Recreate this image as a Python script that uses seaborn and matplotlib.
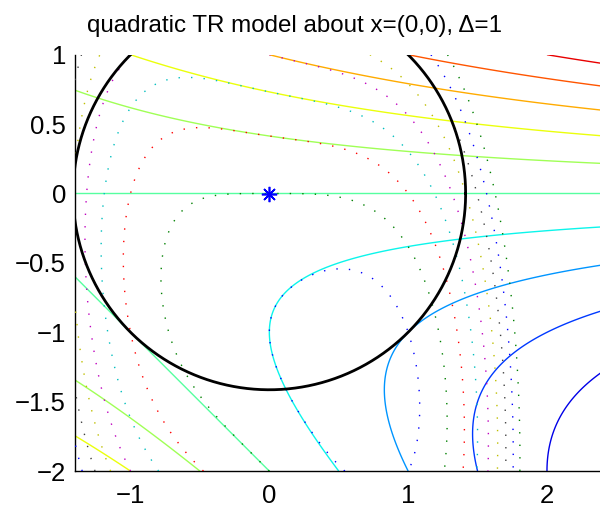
import numpy as np
import matplotlib
matplotlib.use("Agg")
import matplotlib.pyplot as plt
import matplotlib.colors as mcolors
import seaborn as sns
import pandas as pd

# ---- data ----
center = [0.0, 0.0]                 # expansion point x
f_at_center = 1.0                   # f(x)
gradient = [0.0, 2.0]               # grad f(x)
hessian = [[0.0, 1.0], [1.0, 2.0]]  # Hessian at x
# true function f = a*x1^4 + b*x1*x2 + (c + x2)^2
quartic_coef = 1.0
cross_coef = 1.0
shift_coef = 1.0
tr_radius = 1.414
model_levels = [-3, -2, -1, 0, 1, 2, 3, 4, 5, 6]
color_limits = [-4.0, 7.0]
func_levels = [0, 1, 2, 3, 4, 5, 6, 7, 8]
func_colors = [(0, 0, 1), (0, 0.5, 0), (1, 0, 0), (0, 0.75, 0.75),
               (0.75, 0, 0.75), (0.75, 0.75, 0), (0.25, 0.25, 0.25)]
x_limits = [-1.4, 2.4]
y_limits = [-2.0, 1.0]
x_ticks = [-1, 0, 1, 2]
x_tick_labels = ["\u22121", "0", "1", "2"]
y_ticks = [-2, -1.5, -1, -0.5, 0, 0.5, 1]
y_tick_labels = ["\u22122", "\u22121.5", "\u22121", "\u22120.5", "0", "0.5", "1"]
title = "quadratic TR model about x=(0,0), \u0394=1"

# ---- figure ----
sns.set_theme(style="white")
plt.rcParams["font.family"] = ["Liberation Sans", "DejaVu Sans"]
plt.rcParams["axes.unicode_minus"] = True

fig = plt.figure(figsize=(6.0, 5.07), dpi=100)
ax = fig.add_axes([75 / 600, (507 - 471.1) / 507, 527.5 / 600, 416.4 / 507])

xs = np.linspace(x_limits[0], x_limits[1], 600)
ys = np.linspace(y_limits[0], y_limits[1], 500)
X, Y = np.meshgrid(xs, ys)
P1 = X - center[0]
P2 = Y - center[1]
H = np.array(hessian)
M = (f_at_center + gradient[0] * P1 + gradient[1] * P2
     + 0.5 * (H[0, 0] * P1**2 + 2 * H[0, 1] * P1 * P2 + H[1, 1] * P2**2))
F = quartic_coef * X**4 + cross_coef * X * Y + (shift_coef + Y) ** 2

norm = mcolors.Normalize(vmin=color_limits[0], vmax=color_limits[1])
jet = matplotlib.colormaps["jet"]
model_colors = [jet(norm(l)) for l in model_levels]
ax.contour(X, Y, M, levels=model_levels, colors=model_colors,
           linewidths=1.0, zorder=2)

fc = [func_colors[i % len(func_colors)] for i in range(len(func_levels))]
cs = ax.contour(X, Y, F, levels=func_levels, colors=fc, linewidths=1.0, zorder=3)
cs.set_linestyle((0, (1.0, 8.0)))
cs.set_capstyle("butt")

theta = np.linspace(0, 2 * np.pi, 721)
circle = pd.DataFrame({"x": center[0] + tr_radius * np.cos(theta),
                       "y": center[1] + tr_radius * np.sin(theta)})
sns.lineplot(data=circle, x="x", y="y", sort=False, estimator=None,
             color="black", linewidth=2.0, ax=ax, zorder=4)
ax.plot([center[0]], [center[1]], linestyle="none", marker=(8, 2, 0),
        markersize=11, markeredgewidth=1.2, color=(0, 0, 1), zorder=5)

ax.set_xlim(x_limits)
ax.set_ylim(y_limits)
ax.set_xticks(x_ticks)
ax.set_xticklabels(x_tick_labels)
ax.set_yticks(y_ticks)
ax.set_yticklabels(y_tick_labels)
ax.set_xlabel("")
ax.set_ylabel("")
for s in ["top", "right"]:
    ax.spines[s].set_visible(False)
for s in ["left", "bottom"]:
    ax.spines[s].set_color("black")
    ax.spines[s].set_linewidth(1.0)
ax.tick_params(direction="in", length=3, width=0.8, colors="black",
               labelsize=18.5, pad=6.5)
ax.tick_params(axis="x", pad=9)

fig.text(294.5 / 600, 1 - 31.7 / 507, title, ha="center", va="baseline",
         fontsize=17.4, color="black")

fig.savefig("out.png", dpi=100)
